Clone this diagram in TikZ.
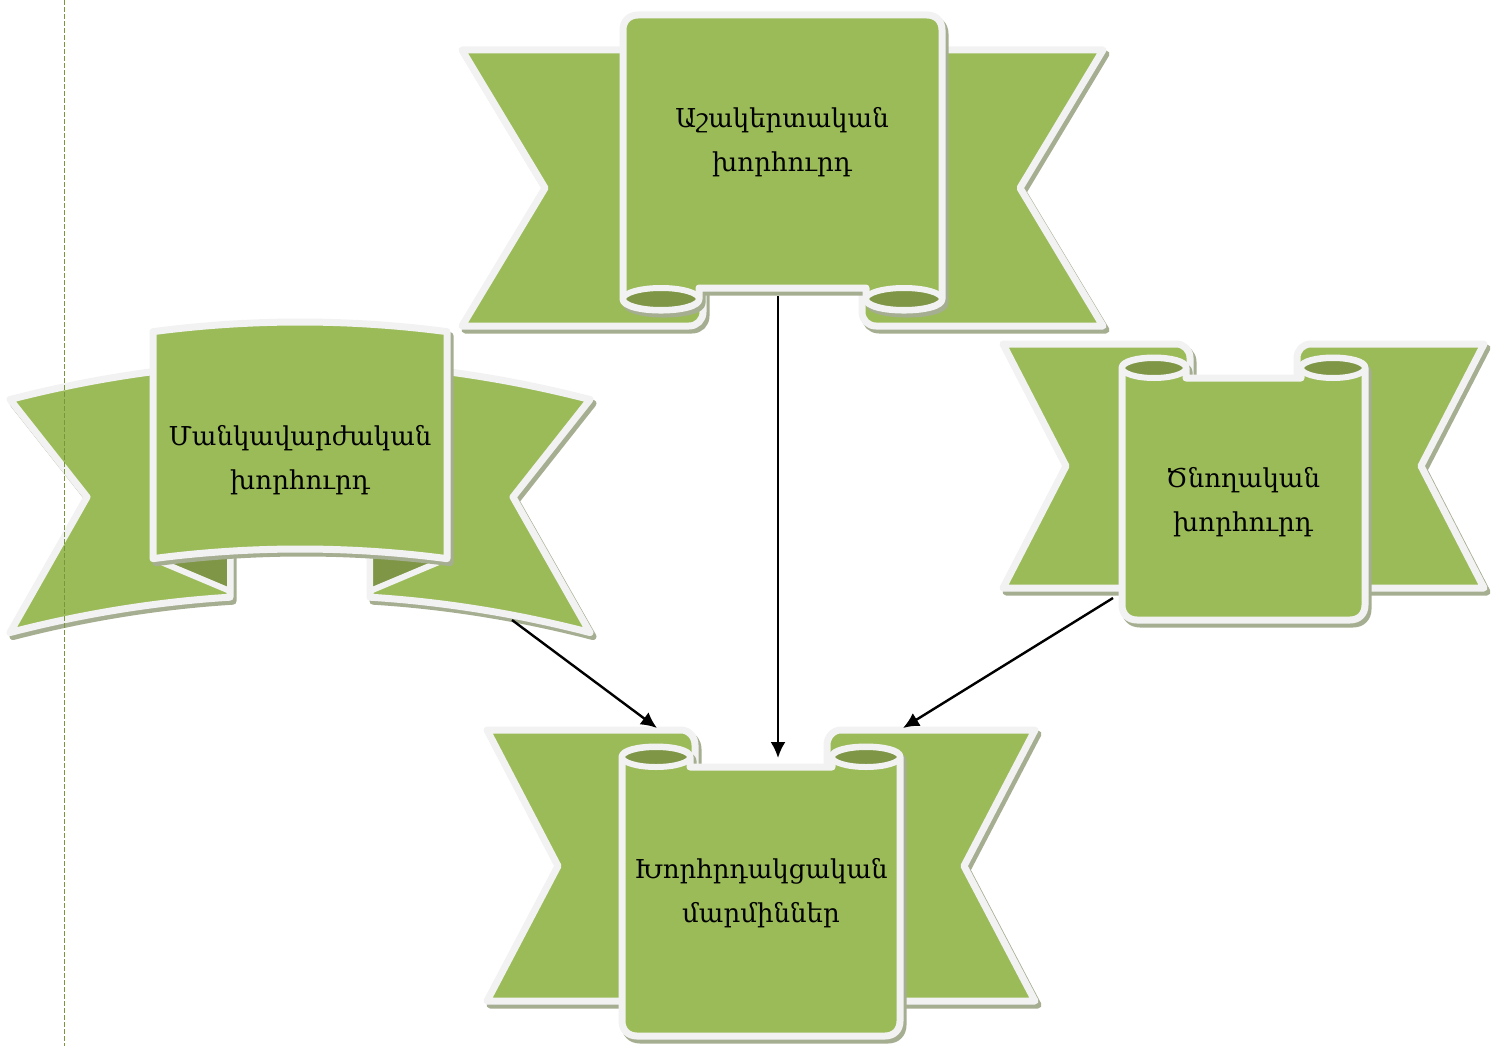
\documentclass[tikz,border=0pt]{standalone}
\usepackage{fontspec}
\newfontfamily\armfont{DejaVu Serif}
\usetikzlibrary{arrows.meta}
\definecolor{rgreen}{RGB}{155,187,89}
\definecolor{rdark}{RGB}{126,150,70}
\definecolor{rline}{RGB}{242,242,242}
\definecolor{rshadow}{RGB}{166,174,145}
\definecolor{dashc}{RGB}{120,150,60}
\begin{document}
\begin{tikzpicture}[x=1pt,y=-1pt,
  shp/.style={fill=rgreen,draw=rline,line width=7pt,line join=round},
  shd/.style={fill=rshadow,draw=rshadow,line width=7pt,line join=round,shift={(3,4)}},
  fold/.style={fill=rdark,draw=rline,line width=6pt,line join=round},
  txt/.style={font=\armfont\fontsize{26}{44}\selectfont,align=center,text=black},
  arr/.style={draw=black,line width=2.4pt,-{Latex[length=16pt,width=15pt]}},
  dashv/.style={draw=dashc,line width=0.9pt,dash pattern=on 5pt off 2pt}]
\useasboundingbox (0,0) rectangle (1498,1046);

% ---------- top banner ----------
\def\TLW{(462,50) -- (632,50) -- (632,287) -- (703,287) -- (703,312) .. controls (703,320) and (697,326) .. (689,326) -- (462,326) -- (545,188) -- cycle}
\def\TRW{(1103,50) -- (933,50) -- (933,287) -- (862,287) -- (862,312) .. controls (862,320) and (868,326) .. (876,326) -- (1103,326) -- (1020,188) -- cycle}
\def\TP{(623,299) -- (623,30) .. controls (623,21) and (629,15) .. (638,15) -- (927,15) .. controls (936,15) and (942,21) .. (942,30) -- (942,299) .. controls (942,313.7) and (866,313.7) .. (866,299) -- (866,288) -- (699,288) -- (699,299) .. controls (699,313.7) and (623,313.7) .. (623,299) -- cycle}
\path[shd] \TLW; \path[shd] \TRW;
\path[shp] \TLW; \path[shp] \TRW;
\path[shd] \TP; \path[shp] \TP;
\path[fold] (661,299) ellipse[x radius=38,y radius=11];
\path[fold] (904,299) ellipse[x radius=38,y radius=11];
\node[txt] (top) at (782,142) {Աշակերտական\\խորհուրդ};

% ---------- curved banner (left) ----------
\def\CLW{(10,399.5) -- plot[domain=10:230,samples=30] (\x,{362+((\x-300)/10)^2/22.4}) -- (230,597.2) -- plot[domain=230:10,samples=30] (\x,{595+((\x-300)/10)^2/22.4}) -- (87,497) -- cycle}
\def\CRW{(590,399.5) -- plot[domain=590:370,samples=30] (\x,{362+((\x-300)/10)^2/22.4}) -- (370,597.2) -- plot[domain=370:590,samples=30] (\x,{595+((\x-300)/10)^2/22.4}) -- (513,497) -- cycle}
\def\CP{(153,558.6) -- plot[domain=153:447,samples=30] (\x,{322+((\x-300)/10)^2/22.4}) -- plot[domain=447:153,samples=30] (\x,{549+((\x-300)/10)^2/22.4}) -- cycle}
\path[shd] \CLW; \path[shd] \CRW;
\path[shp] \CLW; \path[shp] \CRW;
\path[fold] (153,558.6) -- (230,552) -- (230,591) -- cycle;
\path[fold] (447,558.6) -- (370,552) -- (370,591) -- cycle;
\path[shd] \CP; \path[shp] \CP;
\node[txt] (left) at (300,460) {Մանկավարժական\\խորհուրդ};

% ---------- right banner ----------
\def\RLW{(1003,588) -- (1136,588) -- (1136,376) -- (1190,376) -- (1190,358) .. controls (1190,350) and (1184,344) .. (1176,344) -- (1003,344) -- (1066,466) -- cycle}
\def\RRW{(1484,588) -- (1351,588) -- (1351,376) -- (1297,376) -- (1297,358) .. controls (1297,350) and (1303,344) .. (1311,344) -- (1484,344) -- (1421,466) -- cycle}
\def\RP{(1122,368) -- (1122,605) .. controls (1122,614) and (1128,620) .. (1137,620) -- (1350,620) .. controls (1359,620) and (1365,614) .. (1365,605) -- (1365,368) .. controls (1365,354.7) and (1301,354.7) .. (1301,368) -- (1301,378) -- (1186,378) -- (1186,368) .. controls (1186,354.7) and (1122,354.7) .. (1122,368) -- cycle}
\path[shd] \RLW; \path[shd] \RRW;
\path[shp] \RLW; \path[shp] \RRW;
\path[shd] \RP; \path[shp] \RP;
\path[fold] (1154,368) ellipse[x radius=32,y radius=10];
\path[fold] (1333,368) ellipse[x radius=32,y radius=10];
\node[txt] (right) at (1243,502) {Ծնողական\\խորհուրդ};

% ---------- bottom banner ----------
\def\BLW{(487,1001) -- (640,1001) -- (640,765) -- (695,765) -- (695,745) .. controls (695,737) and (689,730) .. (681,730) -- (487,730) -- (558,866) -- cycle}
\def\BRW{(1035,1001) -- (882,1001) -- (882,765) -- (827,765) -- (827,745) .. controls (827,737) and (833,730) .. (841,730) -- (1035,730) -- (964,866) -- cycle}
\def\BP{(622,757) -- (622,1021) .. controls (622,1030) and (628,1036) .. (637,1036) -- (885,1036) .. controls (894,1036) and (900,1030) .. (900,1021) -- (900,757) .. controls (900,743.7) and (832,743.7) .. (832,757) -- (832,767) -- (690,767) -- (690,757) .. controls (690,743.7) and (622,743.7) .. (622,757) -- cycle}
\path[shd] \BLW; \path[shd] \BRW;
\path[shp] \BLW; \path[shp] \BRW;
\path[shd] \BP; \path[shp] \BP;
\path[fold] (656,757) ellipse[x radius=34,y radius=10];
\path[fold] (866,757) ellipse[x radius=34,y radius=10];
\node[txt] (bottom) at (761,893) {Խորհրդակցական\\մարմիններ};

% ---------- connectors ----------
\coordinate (a1s) at (512,620);
\coordinate (a1e) at (657,728);
\coordinate (a2s) at (778,296);
\coordinate (a2e) at (778,758);
\coordinate (a3s) at (1113,598);
\coordinate (a3e) at (903,728);
\draw[arr] (a1s) -- (a1e);
\draw[arr] (a2s) -- (a2e);
\draw[arr] (a3s) -- (a3e);

% ---------- dashed guide ----------
\coordinate (g1) at (64,0);
\coordinate (g2) at (64,1046);
\draw[dashv] (g1) -- (g2);
\end{tikzpicture}
\end{document}
